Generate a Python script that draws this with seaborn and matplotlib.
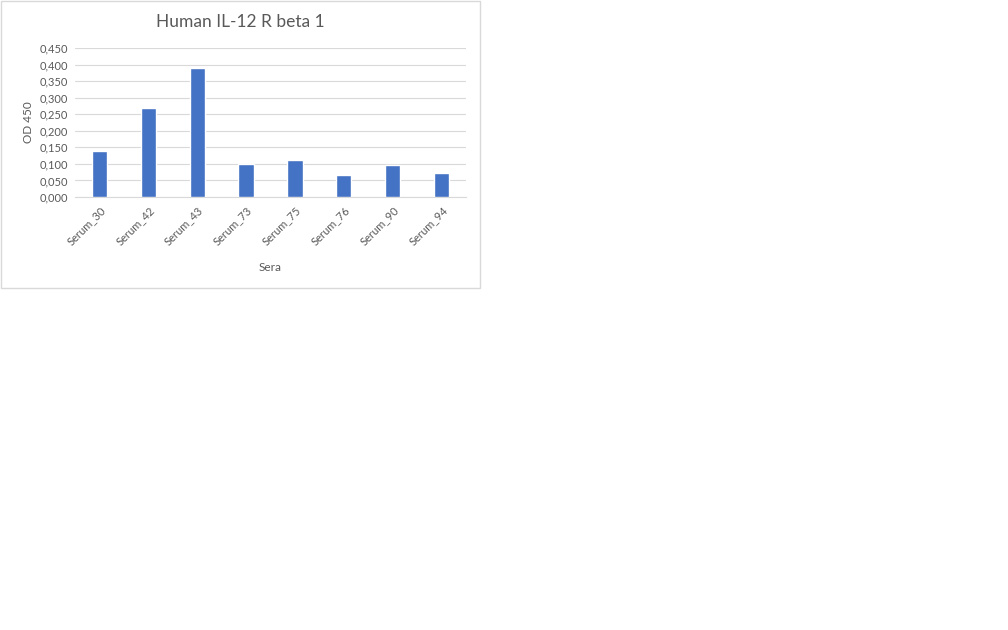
import numpy as np
import pandas as pd
import seaborn as sns
from matplotlib import pyplot as plt
from matplotlib.patches import Rectangle

sera = ['Serum_30', 'Serum_42', 'Serum_43', 'Serum_73', 'Serum_75', 'Serum_76', 'Serum_90', 'Serum_94']
od450 = [0.138, 0.268, 0.390, 0.101, 0.113, 0.065, 0.096, 0.071]
yticks = [0.0, 0.05, 0.10, 0.15, 0.20, 0.25, 0.30, 0.35, 0.40, 0.45]

df = pd.DataFrame({'Sera': sera, 'OD': od450})

sns.set_style('white')
plt.rcParams['font.family'] = ['Lato', 'DejaVu Sans']
txt = '#595959'

fig = plt.figure(figsize=(10.08, 6.3), dpi=100)
# chart frame like excel
fig.patches.append(Rectangle((0.5/1008, 1 - 288/630), 479/1008, 287.5/630,
                             transform=fig.transFigure, fill=False,
                             edgecolor='#D9D9D9', linewidth=1))

ax = fig.add_axes([75/1008, 1 - 197/630, 391/1008, 149/630])
sns.barplot(data=df, x='Sera', y='OD', color='#4472C4', width=0.31,
            saturation=1, ax=ax, zorder=3)

ax.set_ylim(0, 0.45)
ax.set_yticks(yticks)
ax.set_yticklabels([f'{v:.3f}'.replace('.', ',') for v in yticks], color=txt, fontsize=8)
ax.set_xticks(range(len(sera)))
ax.set_xticklabels(sera, rotation=45, ha='right', rotation_mode='anchor', color=txt, fontsize=8)
ax.tick_params(axis='both', length=0, pad=5)
ax.grid(axis='y', color='#D9D9D9', linewidth=0.8, zorder=0)
ax.set_axisbelow(True)
for s in ['top', 'right', 'left']:
    ax.spines[s].set_visible(False)
ax.spines['bottom'].set_color('#D9D9D9')
ax.spines['bottom'].set_linewidth(0.8)

ax.set_xlabel('Sera', color=txt, fontsize=8.5, labelpad=11)
ax.set_ylabel('OD 450', color=txt, fontsize=8.5, labelpad=4)
fig.text(240/1008, 1 - 22/630, 'Human IL-12 R beta 1', ha='center', va='center',
         color=txt, fontsize=12.5)

fig.savefig('out.png', dpi=100)
